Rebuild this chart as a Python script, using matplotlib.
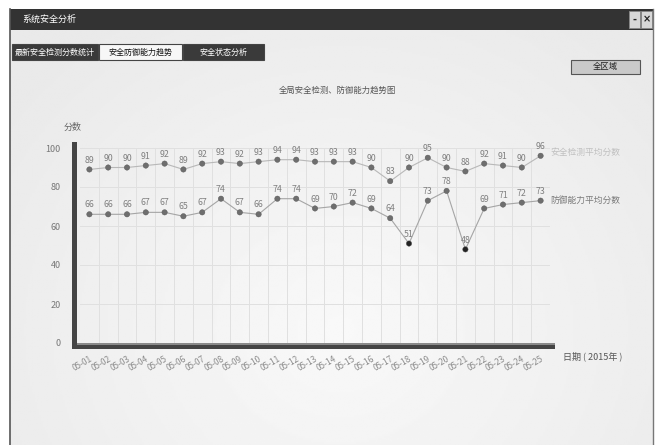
import numpy as np
import matplotlib
matplotlib.use('Agg')
import matplotlib.pyplot as plt
from matplotlib.patches import Rectangle

plt.rcParams['font.family'] = ['Noto Sans CJK SC', 'DejaVu Sans']

# ─────────────────────────────────────────────
# Data
# ─────────────────────────────────────────────
dates = ['05-01', '05-02', '05-03', '05-04', '05-05', '05-06', '05-07', '05-08',
         '05-09', '05-10', '05-11', '05-12', '05-13', '05-14', '05-15', '05-16',
         '05-17', '05-18', '05-19', '05-20', '05-21', '05-22', '05-23', '05-24',
         '05-25']
safety_scores = [89, 90, 90, 91, 92, 89, 92, 93, 92, 93, 94, 94, 93, 93, 93,
                 90, 83, 90, 95, 90, 88, 92, 91, 90, 96]
defense_scores = [66, 66, 66, 67, 67, 65, 67, 74, 67, 66, 74, 74, 69, 70, 72,
                  69, 64, 51, 73, 78, 48, 69, 71, 72, 73]
yticks = [0, 20, 40, 60, 80, 100]
tabs = ['最新安全检测分数统计', '安全防御能力趋势', '安全状态分析']

W, H = 656, 445
fig = plt.figure(figsize=(W / 100, H / 100), dpi=100)

# window frame in pixel coords
bg = fig.add_axes([0, 0, 1, 1])
bg.set_xlim(0, W)
bg.set_ylim(H, 0)
bg.axis('off')

# soft radial background
xx, yy = np.meshgrid(np.linspace(10, 653, 300), np.linspace(30, H, 200))
r = np.sqrt(((xx - 340) / 420) ** 2 + ((yy - 330) / 380) ** 2)
shade = 0.975 - 0.06 * np.clip(r, 0, 1)
bg.imshow(shade, cmap='gray', vmin=0, vmax=1, extent=(10, 653, H, 30),
          aspect='auto', zorder=0)

# title bar
bg.add_patch(Rectangle((10, 9), 643, 21, facecolor='#333333', edgecolor='none', zorder=1))
bg.text(22, 19.5, '系统安全分析', color='white', fontsize=6.5, va='center', zorder=2)
for bx, sym in [(629, '-'), (641, '×')]:
    bg.add_patch(Rectangle((bx, 11), 11, 17, facecolor='#d8d8d8', edgecolor='#888888',
                           lw=0.6, zorder=2))
    bg.text(bx + 5.5, 19.5, sym, fontsize=7, fontweight='bold', color='#222222',
            ha='center', va='center', zorder=3, family='DejaVu Sans')
bg.plot([10, 10], [9, H], color='#555555', lw=1.2, zorder=2)
bg.plot([652.5, 652.5], [9, H], color='#777777', lw=1.0, zorder=2)

# tabs
tab_x = [(12, 86), (99, 83), (183, 81)]
for i, (label, (tx, tw)) in enumerate(zip(tabs, tab_x)):
    active = i == 1
    bg.add_patch(Rectangle((tx, 44), tw, 16,
                           facecolor='#f7f7f7' if active else '#3a3a3a',
                           edgecolor='#444444', lw=0.8, zorder=2))
    bg.text(tx + tw / 2, 52, label, fontsize=5.8, ha='center', va='center',
            color='#111111' if active else 'white', zorder=3)

# button
bg.add_patch(Rectangle((571, 60), 69, 14, facecolor='#c9c9c9', edgecolor='#555555',
                       lw=0.8, zorder=2))
bg.text(605.5, 67, '全区域', fontsize=6, ha='center', va='center', color='#222222', zorder=3)

# chart title and axis captions
bg.text(337, 90, '全局安全检测、防御能力趋势图', fontsize=6, ha='center', va='center',
        color='#555555', zorder=3)
bg.text(73, 127, '分数', fontsize=6.5, ha='center', va='center', color='#666666', zorder=3)
bg.text(563, 356, '日期 ( 2015年 )', fontsize=6.5, ha='left', va='center',
        color='#555555', zorder=3)

# thick 3d-ish axis bars
bg.add_patch(Rectangle((72, 142), 5, 207, facecolor='#444444', edgecolor='none', zorder=4))
bg.add_patch(Rectangle((72, 343), 483, 6, facecolor='#444444', edgecolor='none', zorder=4))
bg.add_patch(Rectangle((77, 343), 478, 1.5, facecolor='#8a8a8a', edgecolor='none', zorder=5))

# ─────────────────────────────────────────────
# Chart axes
# ─────────────────────────────────────────────
left, right, top, bottom = 80, 550, 148, 343
ax = fig.add_axes([left / W, (H - bottom) / H, (right - left) / W, (bottom - top) / H])
ax.set_facecolor('none')
n = len(dates)
x = np.arange(n)
ax.set_xlim(-0.5, n - 0.5)
ax.set_ylim(0, 100)

for y in yticks:
    ax.axhline(y, color='#e0e0e0', lw=0.7, zorder=1)
for b in np.arange(n) + 0.5:
    ax.axvline(b, color='#e0e0e0', lw=0.7, zorder=1)

ax.plot(x, safety_scores, color='#b8b8b8', lw=0.8, zorder=2)
ax.plot(x, defense_scores, color='#a5a5a5', lw=0.8, zorder=2)
for series in (safety_scores, defense_scores):
    colors = ['#222222' if v < 60 else '#6e6e6e' for v in series]
    ax.scatter(x, series, s=15, c=colors, edgecolors='#555555', linewidths=0.3, zorder=3)
    for xi, v in zip(x, series):
        ax.text(xi, v + 2.5, str(v), fontsize=6.3, ha='center', va='bottom',
                color='#808080', zorder=4)

ax.text(n - 0.5, safety_scores[-1] + 2, '安全检测平均分数', fontsize=6.3,
        color='#c0c0c0', ha='left', va='center', clip_on=False)
ax.text(n - 0.5, defense_scores[-1] + 0, '防御能力平均分数', fontsize=6.3,
        color='#7a7a7a', ha='left', va='center', clip_on=False)

ax.set_yticks(yticks)
ax.set_yticklabels([str(v) for v in yticks], fontsize=6.5, color='#777777')
ax.set_xticks(x)
ax.set_xticklabels(dates, fontsize=6, color='#8a8a8a', rotation=30,
                   ha='right', va='top', rotation_mode='anchor')
ax.tick_params(axis='both', length=0)
ax.tick_params(axis='y', pad=14)
ax.tick_params(axis='x', pad=8)
for s in ax.spines.values():
    s.set_visible(False)

fig.savefig('out.png', dpi=100)
